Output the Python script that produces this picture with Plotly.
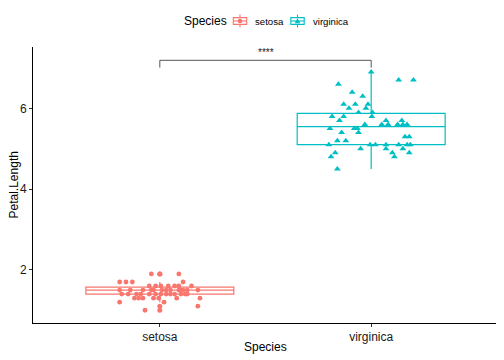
import numpy as np
import plotly.graph_objects as go

species = ["setosa", "virginica"]
colors = ["#F8766D", "#00BFC4"]

setosa_len = [1.0, 1.1, 1.2, 1.2,
              1.3, 1.3, 1.3, 1.3, 1.3, 1.3, 1.3,
              1.4, 1.4, 1.4, 1.4, 1.4, 1.4, 1.4, 1.4, 1.4, 1.4, 1.4, 1.4, 1.4,
              1.5, 1.5, 1.5, 1.5, 1.5, 1.5, 1.5, 1.5, 1.5, 1.5, 1.5, 1.5, 1.5,
              1.6, 1.6, 1.6, 1.6, 1.6, 1.6, 1.6,
              1.7, 1.7, 1.7, 1.7, 1.9, 1.9]
# jitter offsets (category units)
setosa_jit = [-0.07, 0.18, -0.19, 0.02,
              -0.12, -0.10, -0.08, -0.03, -0.005, 0.08, 0.19,
              -0.18, -0.15, -0.11, -0.09, -0.05, -0.02, 0.005, 0.05, 0.07, 0.10, 0.12, 0.13, 0.03,
              -0.19, 0.18, -0.08, -0.04, -0.03, 0.01, 0.03, 0.05, 0.09, 0.10, 0.11, -0.14, 0.13,
              -0.05, -0.02, 0.04, 0.07, 0.09, 0.15, 0.005,
              -0.19, -0.16, -0.13, 0.11, -0.04, 0.09]

virginica_len = [4.5, 4.8, 4.8, 4.9, 4.9, 4.9, 5.0, 5.0, 5.0,
                 5.1, 5.1, 5.1, 5.1, 5.1, 5.1, 5.1, 5.2, 5.2, 5.3, 5.3,
                 5.4, 5.4, 5.5, 5.5, 5.5, 5.6, 5.6, 5.6, 5.6, 5.6, 5.6,
                 5.7, 5.7, 5.7, 5.8, 5.8, 5.8, 5.9, 5.9, 6.0, 6.0,
                 6.1, 6.1, 6.1, 6.3, 6.4, 6.6, 6.7, 6.7, 6.9]
virginica_jit = [-0.16, -0.19, 0.11, -0.17, 0.10, 0.18, -0.05, 0.07, 0.15,
                 -0.20, -0.005, 0.02, 0.07, 0.13, 0.17, 0.185, -0.16, -0.12, 0.16, 0.18,
                 -0.14, -0.06, -0.195, -0.08, -0.065, -0.03, 0.15, 0.17, 0.05, 0.08, 0.125,
                 -0.15, 0.145, 0.07, 0.003, -0.185, -0.13, -0.06, 0.006, -0.025, -0.105,
                 -0.13, -0.015, -0.075, -0.04, -0.09, -0.155, 0.13, 0.20, 0.0]

values = [setosa_len, virginica_len]
jitters = [setosa_jit, virginica_jit]
symbols = ["circle", "triangle-up"]
sizes = [4.8, 6]

fig = go.Figure()

for i, sp in enumerate(species):
    vals = np.array(values[i])
    q1, med, q3 = np.percentile(vals, [25, 50, 75])
    iqr = q3 - q1
    lo = vals[vals >= q1 - 1.5 * iqr].min()
    hi = vals[vals <= q3 + 1.5 * iqr].max()
    outl = vals[(vals < lo) | (vals > hi)]
    xc = i + 1
    fig.add_trace(go.Box(
        x=[xc], q1=[q1], median=[med], q3=[q3], lowerfence=[lo], upperfence=[hi],
        name=sp, width=0.7, whiskerwidth=0, fillcolor="rgba(255,255,255,0)",
        line=dict(color=colors[i], width=1.2), boxpoints=False,
        showlegend=False, hoverinfo="skip"))
    if len(outl):
        fig.add_trace(go.Scatter(
            x=[xc] * len(outl), y=outl, mode="markers",
            marker=dict(color=colors[i], size=5, symbol="circle"),
            showlegend=False))
    fig.add_trace(go.Scatter(
        x=[xc + j for j in jitters[i]], y=values[i], mode="markers", name=sp,
        marker=dict(color=colors[i], size=sizes[i], symbol=symbols[i]),
        showlegend=False))

# significance bracket
br_y, br_tick = 7.19, 7.01
fig.add_trace(go.Scatter(x=[1, 1, 2, 2], y=[br_tick, br_y, br_y, br_tick], mode="lines",
                         line=dict(color="#555555", width=1), showlegend=False, hoverinfo="skip"))
fig.add_annotation(x=1.5, y=br_y, text="****", showarrow=False, yanchor="bottom", yshift=0,
                   font=dict(size=10, color="#222222"))

# plot-area geometry in window pixels (used for placing titles and legend)
PL, PR, PT, PB = 33, 498, 47, 323


def px(x):
    return (x - PL) / (PR - PL)


def py(y):
    return (PB - y) / (PB - PT)


# axis titles
fig.add_annotation(x=0.5, y=py(347), xref="paper", yref="paper", text="Species",
                   showarrow=False, xanchor="center", yanchor="middle", font=dict(size=12))
fig.add_annotation(x=px(13.5), y=0.5, xref="paper", yref="paper", text="Petal.Length",
                   showarrow=False, textangle=-90, xanchor="center", yanchor="middle",
                   font=dict(size=12), borderpad=0)

# legend (ggplot style: box key with the point symbol)
legend_y = 21
fig.add_annotation(x=px(182), y=py(legend_y), xref="paper", yref="paper", text="Species",
                   showarrow=False, xanchor="left", yanchor="middle", font=dict(size=12))
key_cx = [240, 297.5]
text_x = [254, 312]
for i, sp in enumerate(species):
    cx = key_cx[i]
    c = colors[i]
    fig.add_shape(type="rect", xref="paper", yref="paper",
                  x0=px(cx - 6.7), x1=px(cx + 6.7), y0=py(legend_y + 3.4), y1=py(legend_y - 3.4),
                  line=dict(color=c, width=1.1), fillcolor="white")
    fig.add_shape(type="line", xref="paper", yref="paper",
                  x0=px(cx), x1=px(cx), y0=py(legend_y - 3.4), y1=py(legend_y - 6.5),
                  line=dict(color=c, width=1.1))
    fig.add_shape(type="line", xref="paper", yref="paper",
                  x0=px(cx), x1=px(cx), y0=py(legend_y + 3.4), y1=py(legend_y + 6.5),
                  line=dict(color=c, width=1.1))
    fig.add_shape(type="line", xref="paper", yref="paper",
                  x0=px(cx - 6.7), x1=px(cx + 6.7), y0=py(legend_y), y1=py(legend_y),
                  line=dict(color=c, width=1.1))
    if symbols[i] == "circle":
        fig.add_shape(type="circle", xref="paper", yref="paper",
                      x0=px(cx - 2.3), x1=px(cx + 2.3), y0=py(legend_y + 2.3), y1=py(legend_y - 2.3),
                      line=dict(color=c, width=0), fillcolor=c)
    else:
        path = "M {:.5f} {:.5f} L {:.5f} {:.5f} L {:.5f} {:.5f} Z".format(
            px(cx - 2.8), py(legend_y + 2.2), px(cx + 2.8), py(legend_y + 2.2),
            px(cx), py(legend_y - 2.8))
        fig.add_shape(type="path", xref="paper", yref="paper", path=path,
                      line=dict(color=c, width=0), fillcolor=c)
    fig.add_annotation(x=px(text_x[i]), y=py(legend_y), xref="paper", yref="paper", text=sp,
                       showarrow=False, xanchor="left", yanchor="middle", font=dict(size=9.6),
                       borderpad=0)

# the page body adds an 8px offset, so the figure is 8px smaller and margins compensate
fig.update_layout(
    width=496, height=352,
    margin=dict(l=25, r=6, t=39, b=37, autoexpand=False),
    paper_bgcolor="white", plot_bgcolor="white",
    font=dict(family="Liberation Sans, Arial, sans-serif", color="#000000"),
    showlegend=False,
    xaxis=dict(range=[0.4, 2.6], tickvals=[1, 2], ticktext=species, automargin=False,
               showline=True, linecolor="#000000", linewidth=1,
               ticks="outside", ticklen=3, tickcolor="#333333", showgrid=False, zeroline=False,
               tickfont=dict(size=12, color="#1a1a1a")),
    yaxis=dict(range=[0.684, 7.52], tickvals=[2, 4, 6], automargin=False,
               showline=True, linecolor="#000000", linewidth=1,
               ticks="outside", ticklen=3, tickcolor="#333333", showgrid=False, zeroline=False,
               tickfont=dict(size=12, color="#1a1a1a")),
)

fig.write_html("out.html")
